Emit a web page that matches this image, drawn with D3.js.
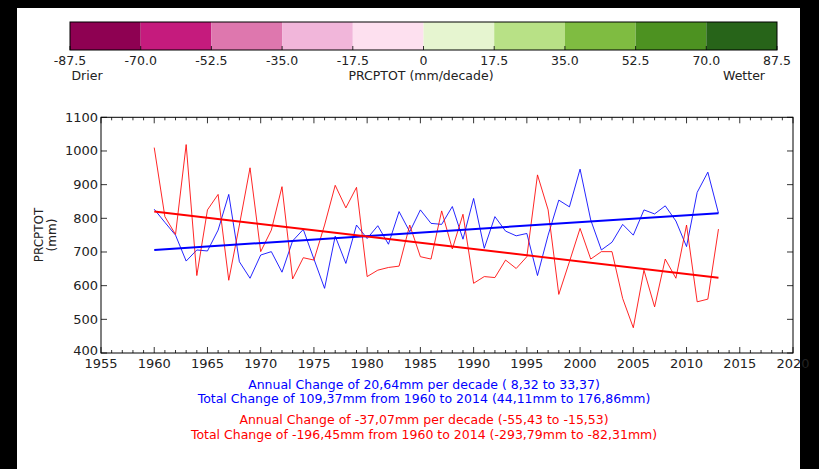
<!DOCTYPE html>
<html><head><meta charset="utf-8">
<script src="https://cdn.jsdelivr.net/npm/d3@7"></script>
<style>
html,body{margin:0;padding:0;background:#000;}
svg{display:block;font-family:"DejaVu Sans",sans-serif;}
</style></head>
<body>
<svg id="c" width="819" height="469"></svg>
<script>
const years = d3.range(1960, 2014);
const blueValues = [827,788,750,673,706,703,765,871,671,622,
  691,701,640,733,767,679,592,747,666,780,
  740,778,723,820,760,825,785,782,835,738,
  859,711,805,762,748,755,630,750,854,834,
  946,795,706,729,782,750,825,813,837,792,
  716,877,937,815];
const redValues = [1010,805,752,1019,630,825,871,616,780,950,
  701,765,894,620,683,676,780,898,831,892,
  627,646,654,658,780,686,679,822,709,812,
  607,627,624,676,651,686,929,825,574,671,
  770,679,701,701,562,475,646,537,679,622,
  780,552,560,768];
const trendYears = [1960, 2013];
const blueTrend = [706, 815.4];
const redTrend = [820, 623.5];
const xTicks = [1955,1960,1965,1970,1975,1980,1985,1990,1995,2000,2005,2010,2015,2020];
const yTicks = [400,500,600,700,800,900,1000,1100];
const cbBounds = [-87.5,-70.0,-52.5,-35.0,-17.5,0,17.5,35.0,52.5,70.0,87.5];
const cbLabels = ["-87.5","-70.0","-52.5","-35.0","-17.5","0","17.5","35.0","52.5","70.0","87.5"];
const cbColors = ["#8e0152","#c51b7d","#de77ae","#f1b6da","#fde0ef","#e6f5d0","#b8e186","#7fbc41","#4d9221","#276419"];
const blueText = ["Annual Change of 20,64mm per decade ( 8,32 to 33,37)",
  "Total Change of 109,37mm from 1960 to 2014 (44,11mm to 176,86mm)"];
const redText = ["Annual Change of -37,07mm per decade (-55,43 to -15,53)",
  "Total Change of -196,45mm from 1960 to 2014 (-293,79mm to -82,31mm)"];

const svg = d3.select("#c");
svg.append("rect").attr("x",17).attr("y",8).attr("width",783).attr("height",461).attr("fill","#fff");

// Colorbar
const cbx = d3.scaleLinear().domain([-87.5,87.5]).range([70,777]);
const cb = svg.append("g");
cb.selectAll("rect.c").data(cbColors).join("rect")
  .attr("x",(d,i)=>cbx(cbBounds[i])).attr("y",22)
  .attr("width",(d,i)=>cbx(cbBounds[i+1])-cbx(cbBounds[i])).attr("height",28)
  .attr("fill",d=>d);
cb.append("rect").attr("x",70).attr("y",22).attr("width",707).attr("height",28)
  .attr("fill","none").attr("stroke","#000").attr("stroke-width",1);
cb.selectAll("line.t").data(cbBounds).join("line")
  .attr("x1",d=>cbx(d)).attr("x2",d=>cbx(d)).attr("y1",50).attr("y2",46)
  .attr("stroke","#000").attr("stroke-width",0.8);
cb.selectAll("text.t").data(cbLabels).join("text")
  .attr("x",(d,i)=>cbx(cbBounds[i])).attr("y",64.5).attr("text-anchor","middle")
  .attr("font-size",12.5).attr("fill","#222").text(d=>d);
cb.append("text").attr("x",87).attr("y",79.5).attr("text-anchor","middle").attr("font-size",12.5).attr("fill","#222").text("Drier");
cb.append("text").attr("x",744).attr("y",79.5).attr("text-anchor","middle").attr("font-size",12.5).attr("fill","#222").text("Wetter");
cb.append("text").attr("x",421).attr("y",79.5).attr("text-anchor","middle").attr("font-size",12.5).attr("fill","#222").text("PRCPTOT (mm/decade)");

// Main plot
const x = d3.scaleLinear().domain([1955,2020]).range([101,793]);
const y = d3.scaleLinear().domain([400,1100]).range([353,117.3]);
const g = svg.append("g");

const line = d3.line().x((d,i)=>x(years[i])).y(d=>y(d));
g.append("path").datum(blueValues).attr("d",line).attr("fill","none").attr("stroke","#0000ff").attr("stroke-width",1).attr("stroke-opacity",0.85);
g.append("path").datum(redValues).attr("d",line).attr("fill","none").attr("stroke","#ff0000").attr("stroke-width",1).attr("stroke-opacity",0.85);
const tl = d3.line().x((d,i)=>x(trendYears[i])).y(d=>y(d));
g.append("path").datum(blueTrend).attr("d",tl).attr("fill","none").attr("stroke","#0000ff").attr("stroke-width",2);
g.append("path").datum(redTrend).attr("d",tl).attr("fill","none").attr("stroke","#ff0000").attr("stroke-width",2);

// frame
g.append("rect").attr("x",101).attr("y",117.3).attr("width",692).attr("height",235.7)
  .attr("fill","none").attr("stroke","#000").attr("stroke-width",1);

// ticks
const minorX = d3.range(1955,2021).filter(v=>v%5!==0);
const tk = g.append("g").attr("stroke","#000").attr("stroke-width",0.8);
xTicks.forEach(v=>{
  tk.append("line").attr("x1",x(v)).attr("x2",x(v)).attr("y1",353).attr("y2",347);
  tk.append("line").attr("x1",x(v)).attr("x2",x(v)).attr("y1",117.3).attr("y2",123.3);
});
minorX.forEach(v=>{
  tk.append("line").attr("x1",x(v)).attr("x2",x(v)).attr("y1",353).attr("y2",350);
  tk.append("line").attr("x1",x(v)).attr("x2",x(v)).attr("y1",117.3).attr("y2",120.3);
});
yTicks.forEach(v=>{
  tk.append("line").attr("x1",101).attr("x2",107).attr("y1",y(v)).attr("y2",y(v));
  tk.append("line").attr("x1",793).attr("x2",787).attr("y1",y(v)).attr("y2",y(v));
});
g.selectAll("text.xt").data(xTicks).join("text")
  .attr("x",d=>x(d)).attr("y",368).attr("text-anchor","middle").attr("font-size",13).attr("fill","#222").text(d=>d);
g.selectAll("text.yt").data(yTicks).join("text")
  .attr("x",98).attr("y",d=>y(d)+(d===400?2:4.5)).attr("text-anchor","end").attr("font-size",13).attr("fill","#222").text(d=>d);

const yl = g.append("text").attr("transform","translate(43,235) rotate(-90)").attr("text-anchor","middle").attr("font-size",12).attr("fill","#222");
yl.append("tspan").attr("x",0).attr("dy",0).text("PRCPTOT");
yl.append("tspan").attr("x",0).attr("dy",13).text("(mm)");

// annotations
svg.selectAll("text.bt").data(blueText).join("text")
  .attr("x",424).attr("y",(d,i)=>388.5+i*14.6).attr("text-anchor","middle").attr("font-size",12.5).attr("fill","#0000ff").text(d=>d);
svg.selectAll("text.rt").data(redText).join("text")
  .attr("x",424).attr("y",(d,i)=>424+i*14.6).attr("text-anchor","middle").attr("font-size",12.5).attr("fill","#ff0000").text(d=>d);
</script>
</body></html>
